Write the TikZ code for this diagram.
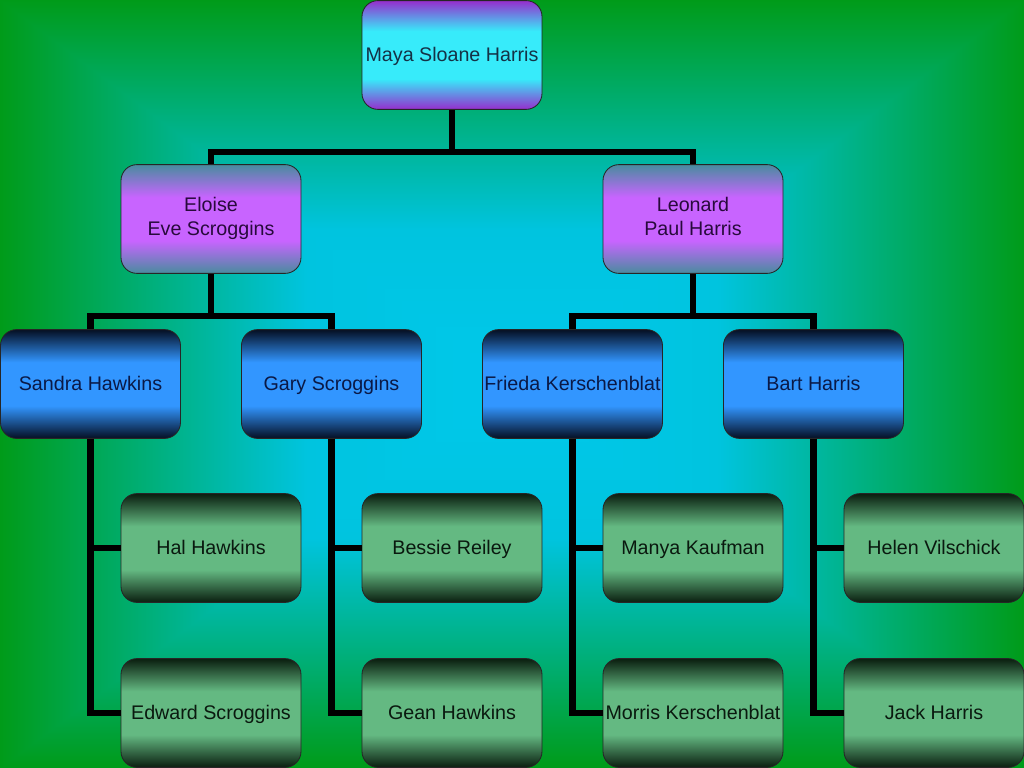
\documentclass[tikz,border=0pt]{standalone}
\usepackage{fontspec}
\setmainfont{Liberation Sans}
\usetikzlibrary{positioning, calc}

\newcommand{\namestrut}{\rule[-3.2pt]{0pt}{15.8pt}}

% Box gradient for the backdrop, light in the middle
\pgfdeclarefunctionalshading{backdrop}{\pgfpoint{0bp}{0bp}}{\pgfpoint{100bp}{100bp}}{}{
	50 sub abs 25 div exch 50 sub abs 25 div
	2 copy lt {exch} if pop
	dup 1 gt {pop 1} if
	0 exch dup
	dup 0.4 lt {10 mul 200 exch sub} {0.4 sub 68 mul 196 exch sub} ifelse 255 div exch
	dup 0.4 lt {30 mul 235 exch sub} {0.4 sub 330 mul 223 exch sub} ifelse 255 div
}

% Band shadings for the four generations
\pgfdeclareverticalshading{rootband}{100bp}{color(0bp)=(rgb,255:red,150;green,45;blue,205); color(25bp)=(rgb,255:red,150;green,45;blue,205); color(39bp)=(rgb,255:red,55;green,235;blue,250); color(61bp)=(rgb,255:red,55;green,235;blue,250); color(75bp)=(rgb,255:red,150;green,45;blue,205); color(100bp)=(rgb,255:red,150;green,45;blue,205)}
\pgfdeclareverticalshading{parentband}{100bp}{color(0bp)=(rgb,255:red,72;green,140;blue,158); color(25bp)=(rgb,255:red,72;green,140;blue,158); color(40bp)=(rgb,255:red,200;green,100;blue,255); color(60bp)=(rgb,255:red,200;green,100;blue,255); color(75bp)=(rgb,255:red,72;green,140;blue,158); color(100bp)=(rgb,255:red,72;green,140;blue,158)}
\pgfdeclareverticalshading{childband}{100bp}{color(0bp)=(rgb,255:red,5;green,15;blue,35); color(25bp)=(rgb,255:red,5;green,15;blue,35); color(40bp)=(rgb,255:red,50;green,150;blue,255); color(60bp)=(rgb,255:red,50;green,150;blue,255); color(75bp)=(rgb,255:red,5;green,15;blue,35); color(100bp)=(rgb,255:red,5;green,15;blue,35)}
\pgfdeclareverticalshading{grandband}{100bp}{color(0bp)=(rgb,255:red,10;green,30;blue,15); color(25bp)=(rgb,255:red,10;green,30;blue,15); color(40bp)=(rgb,255:red,100;green,185;blue,130); color(60bp)=(rgb,255:red,100;green,185;blue,130); color(75bp)=(rgb,255:red,10;green,30;blue,15); color(100bp)=(rgb,255:red,10;green,30;blue,15)}

\tikzset{
	person/.style={draw=black!85, line width=0.6pt, rounded corners=0.4cm, minimum width=4.5cm, minimum height=2.72cm, inner sep=1pt, align=center, font=\fontsize{14}{17}\selectfont, execute at begin node=\namestrut, execute at end node=\namestrut},
	root/.style={person, shade, shading=rootband, text={rgb,255:red,20;green,50;blue,70}},
	parent/.style={person, execute at begin node=\rule{0pt}{24pt}, shade, shading=parentband, text={rgb,255:red,40;green,10;blue,60}},
	child/.style={person, shade, shading=childband, text={rgb,255:red,10;green,25;blue,70}},
	grand/.style={person, shade, shading=grandband, text={rgb,255:red,10;green,25;blue,15}},
	link/.style={line width=4.3pt, black},
}

\begin{document}
\begin{tikzpicture}
			% Backdrop
			\useasboundingbox (0,0) rectangle (25.6,-19.2);
			\shade[shading=backdrop] (0,0) rectangle (25.6,-19.2);
			
			% Root
			\node (maya) at (11.3, -1.375) [root] {Maya Sloane Harris};
			
			% Parents
			\node (eloise) at (5.275, -5.475) [parent] {Eloise\\Eve Scroggins};
			\node (leonard) at (17.325, -5.475) [parent] {Leonard\\Paul Harris};
			
			% Children
			\node (sandra) at (2.2625, -9.6) [child] {Sandra Hawkins};
			\node (gary) at (8.2875, -9.6) [child] {Gary Scroggins};
			\node (frieda) at (14.3125, -9.6) [child] {Frieda Kerschenblat};
			\node (bart) at (20.3375, -9.6) [child] {Bart Harris};
			
			% Grandchildren
			\node (hal) at (5.275, -13.7) [grand] {Hal Hawkins};
			\node (bessie) at (11.3, -13.7) [grand] {Bessie Reiley};
			\node (manya) at (17.325, -13.7) [grand] {Manya Kaufman};
			\node (helen) at (23.35, -13.7) [grand] {Helen Vilschick};
			\node (edward) at (5.275, -17.825) [grand] {Edward Scroggins};
			\node (gean) at (11.3, -17.825) [grand] {Gean Hawkins};
			\node (morris) at (17.325, -17.825) [grand] {Morris Kerschenblat};
			\node (jack) at (23.35, -17.825) [grand] {Jack Harris};
			
			% Bars joining siblings
			\coordinate (bar0) at ($(eloise.north)+(0,0.3)$);
			\coordinate (bar1) at ($(sandra.north)+(0,0.32)$);
			\coordinate (bar2) at ($(frieda.north)+(0,0.32)$);
			
			\draw[link] (maya.south) -- (maya.south |- bar0);
			\draw[link] (eloise.north) -- (bar0) -| (leonard.north);
			
			\draw[link] (eloise.south) -- (eloise.south |- bar1);
			\draw[link] (sandra.north) -- (bar1) -| (gary.north);
			\draw[link] (leonard.south) -- (leonard.south |- bar2);
			\draw[link] (frieda.north) -- (bar2) -| (bart.north);
			
			% Down to the grandchildren
			\draw[link] (sandra.south) |- (hal.west);
			\draw[link] (sandra.south) |- (edward.west);
			\draw[link] (gary.south) |- (bessie.west);
			\draw[link] (gary.south) |- (gean.west);
			\draw[link] (frieda.south) |- (manya.west);
			\draw[link] (frieda.south) |- (morris.west);
			\draw[link] (bart.south) |- (helen.west);
			\draw[link] (bart.south) |- (jack.west);
\end{tikzpicture}
\end{document}
